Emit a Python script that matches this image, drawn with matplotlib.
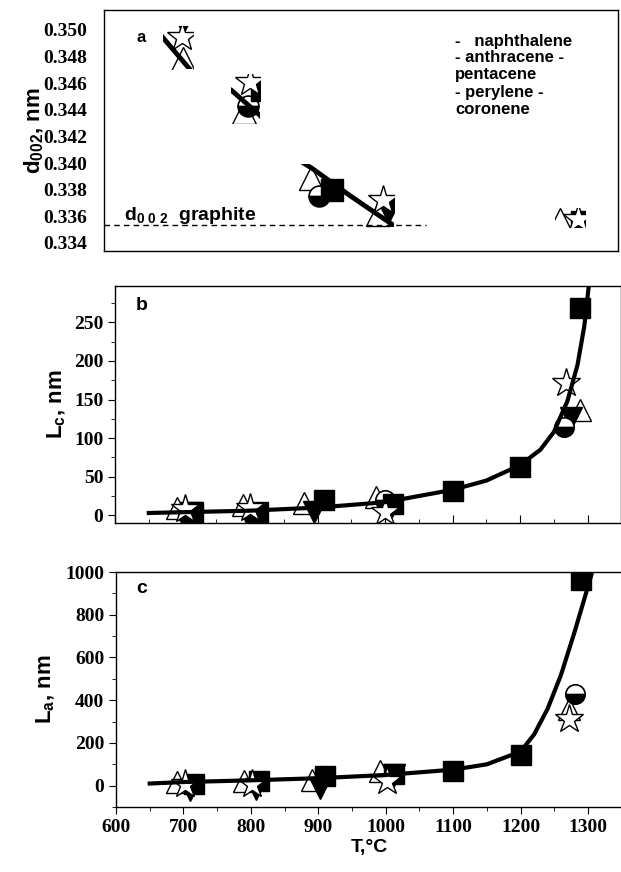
import numpy as np
import matplotlib
matplotlib.use('Agg')
import matplotlib.pyplot as plt
from matplotlib.patches import Rectangle

plt.rcParams['font.family'] = 'Liberation Sans'
plt.rcParams['font.weight'] = 'bold'
plt.rcParams['axes.labelweight'] = 'bold'
plt.rcParams['mathtext.fontset'] = 'custom'
plt.rcParams['mathtext.rm'] = 'Liberation Sans:bold'
plt.rcParams['mathtext.bf'] = 'Liberation Sans:bold'
plt.rcParams['mathtext.it'] = 'Liberation Sans:bold'
plt.rcParams['mathtext.default'] = 'bf'

# ---- panel a : d002 (only fragments of the original survive) ----
a_windows = [(670, 714, 0.3471, 0.3503), (771, 814, 0.3430, 0.3467),
             (873, 1014, 0.3352, 0.3399), (1254, 1299, 0.3352, 0.3366)]
a_tri_T = [700, 790, 891, 990, 1262]
a_tri_d = [0.3478, 0.3438, 0.3389, 0.3362, 0.3357]
a_dtri_T = [700, 1007]
a_dtri_d = [0.3506, 0.3365]
a_circ_T = [797, 903]
a_circ_d = [0.3443, 0.3375]
a_sq_T = [818, 922, 1294]
a_sq_d = [0.3455, 0.3380, 0.3356]
a_star_T = [698, 800, 998, 1288]
a_star_d = [0.3495, 0.3461, 0.3372, 0.3358]
a_fit_T = [660, 714, 771, 814, 873, 892, 950, 1014]
a_fit_d = [0.3500, 0.3468, 0.3455, 0.3436, 0.3402, 0.3396, 0.3375, 0.3353]
d_graphite = 0.33535

# ---- panel b : Lc ----
b_tri_T = [692, 790, 880, 986, 1288]
b_tri_L = [10, 13, 16, 24, 137]
b_dtri_T = [712, 806, 895, 1010, 1275]
b_dtri_L = [3, 1, 4, 12, 126]
b_circ_T = [708, 806, 1000, 1265]
b_circ_L = [0, -2, 20, 114]
b_sq_T = [715, 812, 910, 1012, 1100, 1200, 1288]
b_sq_L = [4, 4, 20, 14, 31, 62, 268]
b_star_T = [703, 800, 1000, 1268]
b_star_L = [8, 9, 4, 171]
b_fit_T = [650, 700, 800, 900, 1000, 1100, 1150, 1200, 1230, 1250, 1270, 1285, 1295, 1302]
b_fit_L = [3, 4, 6, 10, 17, 33, 45, 65, 85, 108, 148, 195, 245, 300]

# ---- panel c : La ----
c_tri_T = [690, 790, 890, 992, 1272]
c_tri_L = [15, 20, 25, 70, 360]
c_dtri_T = [710, 808, 902, 1012]
c_dtri_L = [-20, -15, -10, 50]
c_circ_T = [1280]
c_circ_L = [430]
c_sq_T = [715, 812, 910, 1012, 1100, 1200, 1290]
c_sq_L = [10, 20, 45, 55, 70, 145, 965]
c_star_T = [702, 802, 1002, 1272]
c_star_L = [10, 10, 20, 310]
c_fit_T = [650, 700, 800, 900, 1000, 1100, 1150, 1200, 1220, 1240, 1260, 1280, 1295, 1306]
c_fit_L = [10, 17, 25, 35, 50, 75, 100, 160, 240, 360, 520, 720, 880, 1000]

legend_lines = ['-   naphthalene', '- anthracene -', 'pentacene', '- perylene -', 'coronene']
legend_y = [0.867, 0.801, 0.734, 0.656, 0.589]

tick_font = {'family': 'Liberation Serif', 'weight': 'bold', 'size': 14}

fig = plt.figure(figsize=(6.21, 8.72), dpi=100)
ax_a = fig.add_axes([0.1675, 0.7122, 0.828, 0.2764])
ax_b = fig.add_axes([0.1852, 0.4002, 0.8155, 0.2718])
ax_c = fig.add_axes([0.1868, 0.0745, 0.8145, 0.2695])


def draw_markers(ax, sets):
    ms = sets.get('ms', 16)
    arts = []
    T, v = sets['tri']
    arts += ax.plot(T, v, ls='none', marker='^', ms=ms, mfc='white', mec='black', mew=1)
    T, v = sets['dtri']
    arts += ax.plot(T, v, ls='none', marker='v', ms=ms, mfc='black', mec='black')
    T, v = sets['circ']
    arts += ax.plot(T, v, ls='none', marker='o', ms=ms - 2, fillstyle='bottom',
                    mfc='black', mfcalt='white', mec='black', mew=1.2)
    T, v = sets['sq']
    arts += ax.plot(T, v, ls='none', marker='s', ms=ms - 1, mfc='black', mec='black')
    T, v = sets['star']
    arts += ax.plot(T, v, ls='none', marker='*', ms=ms + 5, mfc='white', mec='black', mew=1)
    return arts


# panel a
ax_a.set_xlim(582, 1348)
ax_a.set_ylim(0.3334, 0.3515)
a_ticks = np.arange(0.334, 0.3505, 0.002)
ax_a.set_yticks(a_ticks)
ax_a.set_yticklabels(['%.3f' % t for t in a_ticks], fontdict=tick_font)
ax_a.tick_params(axis='y', length=0, pad=12)
ax_a.set_xticks([])
for x0, x1, y0, y1 in a_windows:
    rect = Rectangle((x0, y0), x1 - x0, y1 - y0, transform=ax_a.transData, fill=False, lw=0)
    ax_a.add_patch(rect)
    rect.set_visible(False)
    arts = draw_markers(ax_a, {'tri': (a_tri_T, a_tri_d), 'dtri': (a_dtri_T, a_dtri_d),
                               'circ': (a_circ_T, a_circ_d), 'sq': (a_sq_T, a_sq_d),
                               'star': (a_star_T, a_star_d), 'ms': 17})
    arts += ax_a.plot(a_fit_T, a_fit_d, color='black', lw=3.5)
    for art in arts:
        art.set_clip_path(rect)
ax_a.plot([582, 1062], [d_graphite, d_graphite], color='black', ls=(0, (4, 3)), lw=1)
ax_a.text(612, 0.3357, r'd$_{0\ 0\ 2}$  graphite', fontsize=14)
ax_a.text(630, 0.3494, 'a', fontsize=12, va='center')
for s, y in zip(legend_lines, legend_y):
    ax_a.text(0.683, y, s, transform=ax_a.transAxes, fontsize=12, va='center')
ax_a.set_ylabel(r'd$_{002}$, nm', fontsize=16, labelpad=-2)

# panel b
draw_markers(ax_b, {'tri': (b_tri_T, b_tri_L), 'dtri': (b_dtri_T, b_dtri_L),
                    'circ': (b_circ_T, b_circ_L), 'sq': (b_sq_T, b_sq_L),
                    'star': (b_star_T, b_star_L)})
ax_b.plot(b_fit_T, b_fit_L, color='black', lw=3)
ax_b.set_xlim(600, 1350)
ax_b.set_ylim(-10, 297)
ax_b.set_yticks([0, 50, 100, 150, 200, 250])
ax_b.set_yticklabels(['0', '50', '100', '150', '200', '250'], fontdict=tick_font)
ax_b.set_yticks(np.arange(25, 300, 50), minor=True)
ax_b.set_xticks(np.arange(600, 1351, 100))
ax_b.set_xticks(np.arange(650, 1351, 100), minor=True)
ax_b.tick_params(axis='x', which='both', direction='in', labelbottom=False, length=6)
ax_b.tick_params(axis='x', which='minor', length=3)
ax_b.tick_params(axis='y', which='major', direction='out', length=5)
ax_b.tick_params(axis='y', which='minor', direction='out', length=3)
ax_b.text(630, 272, 'b', fontsize=14, va='center')
ax_b.set_ylabel(r'L$_{c}$, nm', fontsize=16, labelpad=4)

# panel c
draw_markers(ax_c, {'tri': (c_tri_T, c_tri_L), 'dtri': (c_dtri_T, c_dtri_L),
                    'circ': (c_circ_T, c_circ_L), 'sq': (c_sq_T, c_sq_L),
                    'star': (c_star_T, c_star_L)})
ax_c.plot(c_fit_T, c_fit_L, color='black', lw=3)
ax_c.set_xlim(600, 1350)
ax_c.set_ylim(-100, 1000)
ax_c.set_yticks([0, 200, 400, 600, 800, 1000])
ax_c.set_yticklabels(['0', '200', '400', '600', '800', '1000'], fontdict=tick_font)
ax_c.set_yticks(np.arange(-100, 1000, 200), minor=True)
ax_c.set_xticks(np.arange(600, 1301, 100))
ax_c.set_xticklabels([str(t) for t in range(600, 1301, 100)], fontdict=tick_font)
ax_c.set_xticks(np.arange(650, 1351, 100), minor=True)
ax_c.tick_params(axis='both', which='major', direction='out', length=5)
ax_c.tick_params(axis='both', which='minor', direction='out', length=3)
ax_c.text(630, 924, 'c', fontsize=14, va='center')
ax_c.set_ylabel(r'L$_{a}$, nm', fontsize=16, labelpad=6)
ax_c.set_xlabel('T,\u00b0C', fontsize=14, labelpad=2)

for ax in (ax_a, ax_b, ax_c):
    for sp in ax.spines.values():
        sp.set_linewidth(1)

fig.savefig('out.png', dpi=100)
